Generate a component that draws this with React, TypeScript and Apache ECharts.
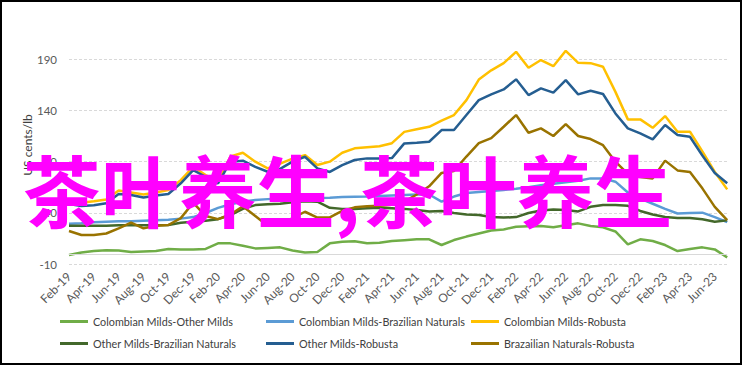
import React, { useEffect, useRef } from 'react';
import * as echarts from 'echarts';

const months = [
  'Feb-19', 'Mar-19', 'Apr-19', 'May-19', 'Jun-19', 'Jul-19', 'Aug-19', 'Sep-19', 'Oct-19', 'Nov-19', 'Dec-19',
  'Jan-20', 'Feb-20', 'Mar-20', 'Apr-20', 'May-20', 'Jun-20', 'Jul-20', 'Aug-20', 'Sep-20', 'Oct-20', 'Nov-20', 'Dec-20',
  'Jan-21', 'Feb-21', 'Mar-21', 'Apr-21', 'May-21', 'Jun-21', 'Jul-21', 'Aug-21', 'Sep-21', 'Oct-21', 'Nov-21', 'Dec-21',
  'Jan-22', 'Feb-22', 'Mar-22', 'Apr-22', 'May-22', 'Jun-22', 'Jul-22', 'Aug-22', 'Sep-22', 'Oct-22', 'Nov-22', 'Dec-22',
  'Jan-23', 'Feb-23', 'Mar-23', 'Apr-23', 'May-23', 'Jun-23', 'Jul-23',
];

const colombianOther = [
  -1, 1.5, 3, 3.8, 3.5, 2, 2.5, 3, 5, 4.5,
  4.5, 5, 10.4, 10.4, 8, 5.5, 6, 6.5, 3.5, 1.6,
  1.9, 10.4, 12, 12.5, 10.5, 11, 12.7, 13.5, 14.3, 14.3,
  8.8, 13.6, 17, 20, 23, 24, 26.6, 27, 27.3, 26,
  28, 29.9, 27.3, 26, 22, 9.4, 14.3, 12.7, 8.8, 2.9,
  5, 6.5, 4.5, -3.3,
];

const colombianBrazilian = [
  29.5, 30, 31, 31.5, 32, 32, 32.5, 33, 33.5, 34.5,
  36, 40, 45, 48.5, 51, 52.6, 53.5, 54, 54.2, 54.5,
  54.5, 54.9, 55.5, 55.9, 56, 56.5, 57, 57.5, 58, 58,
  51, 56, 59.5, 60.5, 61.5, 62.5, 63.5, 65, 67, 68.5,
  70, 71.5, 73.7, 73.7, 70.5, 60, 54, 49, 44, 39.5,
  40, 40.3, 36, 31,
];

const colombianRobusta = [
  51, 50, 51.5, 53.2, 62, 60, 58, 60, 62.3, 72,
  85, 77, 70.5, 95, 98.7, 90, 83.5, 88, 93, 96.4,
  86.7, 90, 98.7, 103, 104, 105, 108, 119, 121.5, 124,
  130, 135.4, 150, 170, 179, 186, 197, 181.5, 189, 183,
  198, 186.3, 186, 182.5, 158, 131.2, 131.2, 123, 134.4, 119.2,
  119.2, 100, 80, 63,
];

const otherBrazilian = [
  27.5, 27.5, 27.5, 27.5, 28, 28, 28, 28, 28.3, 30.5,
  31.5, 32.5, 34, 38, 44, 47.7, 48.5, 49, 50.5, 51.5,
  51, 45, 44, 44, 44.5, 45, 44.5, 44, 43, 41.5,
  42, 40, 38.5, 38, 36, 35.5, 36, 40, 42.5, 43.5,
  43, 41.5, 46, 47.7, 47.7, 47, 42, 38.5, 36, 35,
  35, 33.8, 31.5, 32.8,
];

const otherRobusta = [
  48.7, 46.8, 47.5, 49.4, 58.5, 57.5, 55, 57, 58.5, 68.9,
  81.8, 75.3, 68.9, 90, 90.9, 85, 80.2, 83, 90, 94.8,
  83.5, 80, 86.7, 91.6, 93.2, 93.2, 93.5, 107.8, 108.5, 109.4,
  120.8, 120.8, 135.4, 150, 155.6, 160.4, 170.2, 154.9, 161.4, 157.2,
  169.5, 155.6, 159.1, 155.9, 137, 122.4, 117.6, 111.7, 125.7, 115.9,
  114.3, 96, 79, 69,
];

const brazilianRobusta = [
  22.5, 18.5, 18.5, 20, 25, 30.5, 25, 27.5, 28.3, 35,
  50, 37, 34, 38.5, 46.5, 37, 27.5, 28.5, 35, 41.2,
  35.5, 35.7, 42, 45.5, 46.5, 47, 48, 51, 58, 66,
  79, 81, 95, 108, 113, 124, 135.4, 118.2, 122.4, 115,
  126.6, 115, 112, 106, 90, 78, 75, 73.7, 91, 81.5,
  80, 64, 46, 33,
];

const seriesNames = [
  'Colombian Milds-Other Milds',
  'Colombian Milds-Brazilian Naturals',
  'Colombian Milds-Robusta',
  'Other Milds-Brazilian Naturals',
  'Other Milds-Robusta',
  'Brazailian Naturals-Robusta',
];
const seriesData = [colombianOther, colombianBrazilian, colombianRobusta, otherBrazilian, otherRobusta, brazilianRobusta];
const seriesColors = ['#70AD47', '#5B9BD5', '#FFC000', '#43682B', '#255E91', '#997300'];

const yAxisTitle = 'US cents/lb';
const watermarkText = '茶叶养生,茶叶养生';

export default function App() {
  const ref = useRef<HTMLDivElement>(null);
  useEffect(() => {
    document.body.style.margin = '0';
    const chart = echarts.init(ref.current!, null, { renderer: 'svg' });
    const font = 'Lato, "Open Sans", sans-serif';
    const legendPos = [
      [60, 316], [266, 316], [471, 316],
      [60, 338], [266, 338], [471, 338],
    ];
    const gridColor = '#d9d9d9';
    chart.setOption({
      animation: false,
      textStyle: { fontFamily: font },
      grid: { left: 69, right: 16.8, top: 38.5, height: 225.8 },
      xAxis: {
        type: 'category',
        data: months,
        boundaryGap: false,
        axisLine: { show: false },
        axisTick: { show: false },
        splitLine: { show: false },
        axisLabel: {
          interval: 1,
          rotate: 45,
          margin: 10,
          fontSize: 12,
          color: '#595959',
          fontFamily: font,
        },
      },
      yAxis: {
        type: 'value',
        min: -10,
        max: 210,
        interval: 50,
        axisLine: { show: false },
        axisTick: { show: false },
        axisLabel: {
          margin: 12,
          fontSize: 11.5,
          color: '#595959',
          fontFamily: font,
          showMaxLabel: false,
        },
        splitLine: {
          show: true,
          lineStyle: {
            color: [gridColor, gridColor, gridColor, gridColor, gridColor, 'rgba(0,0,0,0)'],
            type: [3, 2],
            width: 1,
          },
        },
      },
      legend: seriesNames.map((name, i) => ({
        data: [name],
        left: legendPos[i][0],
        top: legendPos[i][1],
        padding: 0,
        icon: 'rect',
        itemWidth: 28,
        itemHeight: 3,
        selectedMode: false,
        textStyle: { fontFamily: font, fontSize: 10.8, color: '#404040' },
      })),
      graphic: [
        {
          type: 'rect',
          shape: { x: 1, y: 1, width: 740, height: 363 },
          style: { fill: 'none', stroke: '#000', lineWidth: 2 },
          z: 50,
          silent: true,
        },
        {
          type: 'text',
          x: 27,
          y: 145,
          rotation: Math.PI / 2,
          style: {
            text: yAxisTitle,
            fontFamily: font,
            fontSize: 12,
            fill: '#404040',
            textAlign: 'center',
            textVerticalAlign: 'middle',
          },
        },
        {
          type: 'text',
          x: 347.5,
          y: 188,
          z: 100,
          style: {
            text: watermarkText,
            fontFamily: '"Noto Sans CJK SC", sans-serif',
            fontSize: 78,
            fontWeight: 'bold',
            fill: '#FF00FF',
            textAlign: 'center',
            textVerticalAlign: 'middle',
          },
        },
      ],
      series: seriesNames.map((name, i) => ({
        name,
        type: 'line',
        data: seriesData[i],
        symbol: 'none',
        smooth: false,
        lineStyle: { color: seriesColors[i], width: 2.5 },
        itemStyle: { color: seriesColors[i] },
        z: 2,
        ...(i === 0
          ? {
              markLine: {
                silent: true,
                symbol: ['none', 'none'],
                label: { show: false },
                lineStyle: { color: gridColor, type: 'solid', width: 1 },
                data: [{ yAxis: 0 }],
              },
            }
          : {}),
      })),
    });
    return () => chart.dispose();
  }, []);
  return <div ref={ref} style={{ position: 'absolute', left: 0, top: 0, width: 744, height: 366 }} />;
}
